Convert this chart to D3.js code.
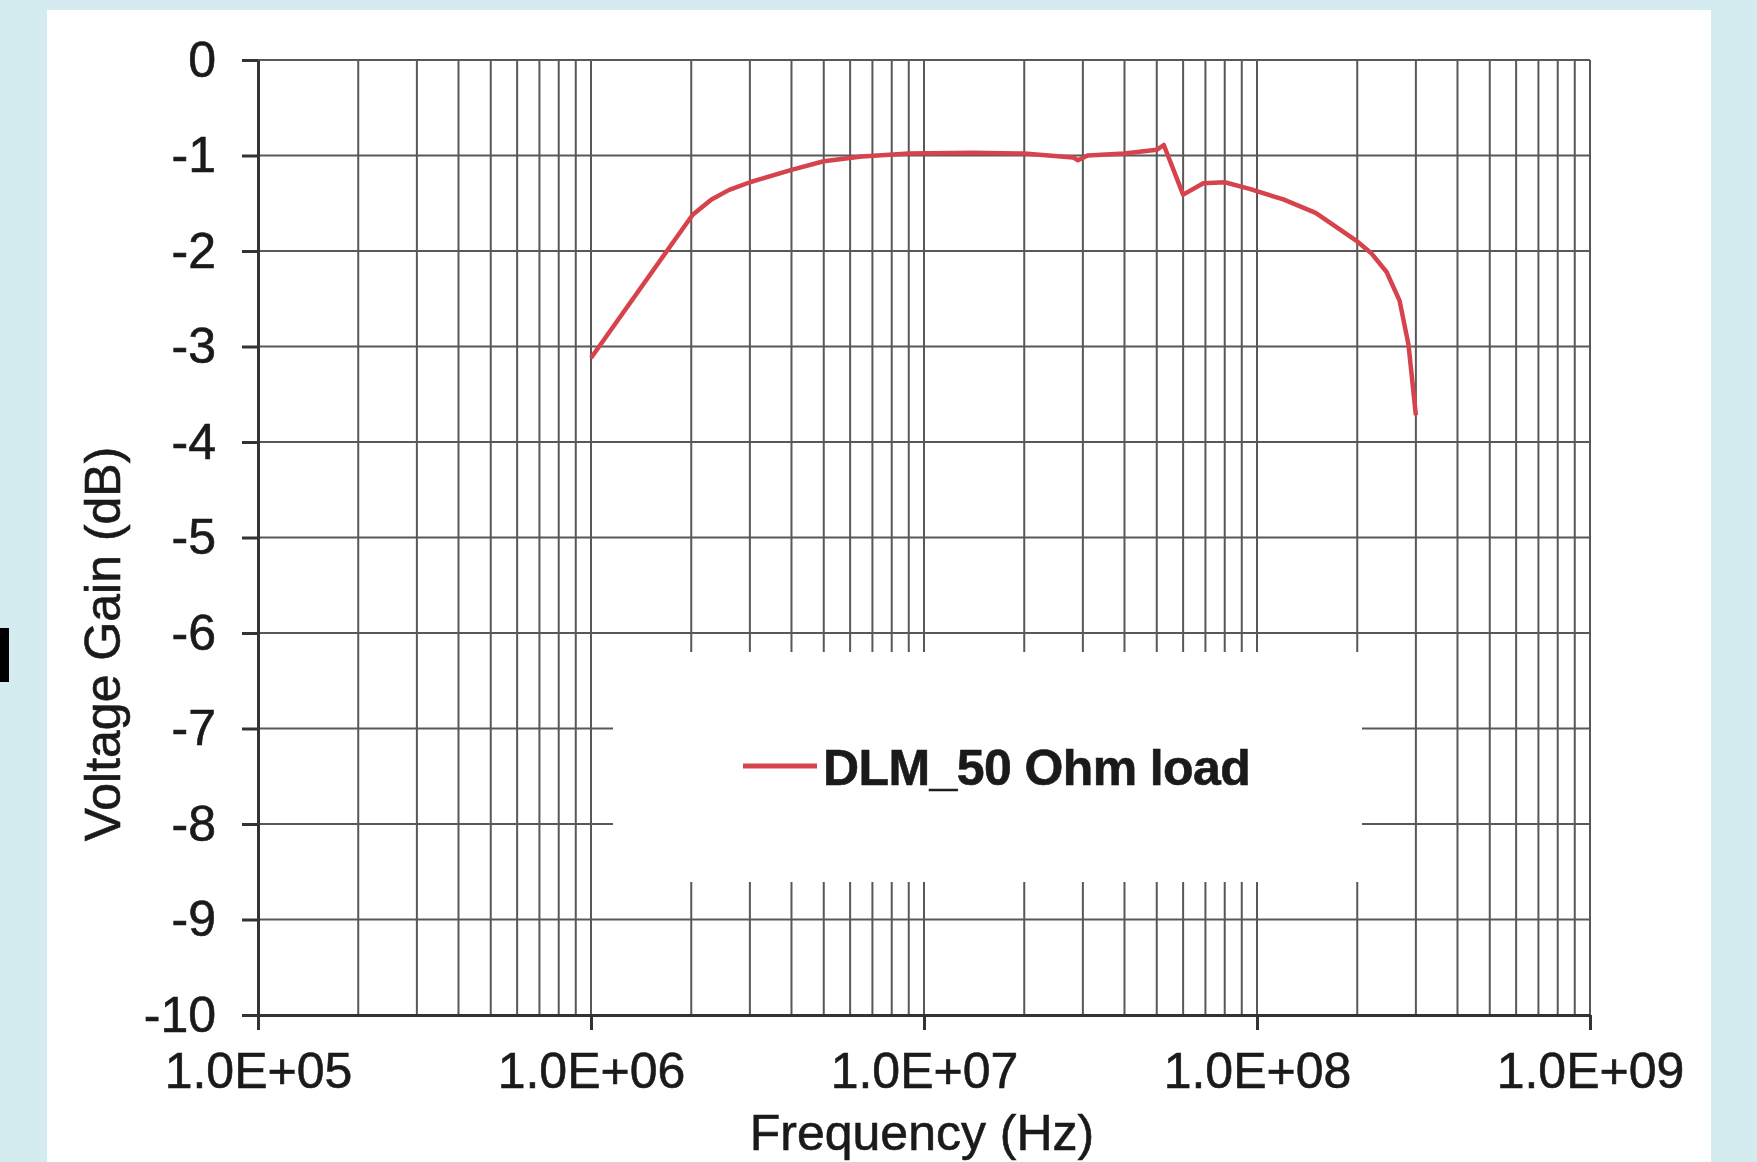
<!DOCTYPE html>
<html>
<head>
<meta charset="utf-8">
<script src="https://cdn.jsdelivr.net/npm/d3@7"></script>
<style>
  html, body { margin: 0; padding: 0; background: #d4ecef; }
  svg { display: block; }
  .grid line { stroke: #585858; stroke-width: 2; }
  .axis path, .axis line { stroke: #333; stroke-width: 3; }
  .axis text { font-family: "Liberation Sans", Arial, sans-serif; font-size: 50px; fill: #1a1a1a; stroke: #1a1a1a; stroke-width: 0.6; }
  .title { font-family: "Liberation Sans", Arial, sans-serif; font-size: 50px; fill: #1a1a1a; stroke: #1a1a1a; stroke-width: 0.6; }
</style>
</head>
<body>
<div id="output"></div>
<script>
// Data
const freqHz = [1e6, 1.73e6, 2.02e6, 2.3e6, 2.6e6, 3e6, 4e6, 5e6, 6.5e6, 9e6,
  1.4e7, 2e7, 2.8e7, 2.9e7, 3.1e7, 4e7, 5e7, 5.25e7, 6e7, 6.9e7,
  8e7, 9.5e7, 1.2e8, 1.5e8, 1.75e8, 2e8, 2.2e8, 2.45e8, 2.68e8, 2.85e8, 3e8];
const gainDb = [-3.12, -1.95, -1.62, -1.46, -1.36, -1.28, -1.15, -1.06, -1.01, -0.98,
  -0.97, -0.98, -1.02, -1.05, -1.0, -0.98, -0.94, -0.89, -1.41, -1.29,
  -1.28, -1.35, -1.46, -1.6, -1.76, -1.9, -2.02, -2.22, -2.52, -2.98, -3.72];
const xDecades = [1e5, 1e6, 1e7, 1e8, 1e9];
const yTicks = [0, -1, -2, -3, -4, -5, -6, -7, -8, -9, -10];
const seriesName = 'DLM_50 Ohm load';

const width = 1757, height = 1162;

const svg = d3.select('#output')
  .append('svg')
  .attr('width', width)
  .attr('height', height);

svg.append('rect')
  .attr('width', width).attr('height', height)
  .attr('fill', '#d4ecef');

// white panel
svg.append('rect')
  .attr('x', 47).attr('y', 10)
  .attr('width', 1711 - 47).attr('height', height - 10)
  .attr('fill', '#fff');

// little black mark on left edge
svg.append('rect')
  .attr('x', 0).attr('y', 628)
  .attr('width', 9).attr('height', 54)
  .attr('fill', '#000');

const x = d3.scaleLog().domain([1e5, 1e9]).range([258, 1590]);
const y = d3.scaleLinear().domain([-10, 0]).range([1015, 60]);

// Grid
const grid = svg.append('g').attr('class', 'grid');
grid.selectAll('.v')
  .data(x.ticks())
  .join('line')
  .attr('x1', d => x(d)).attr('x2', d => x(d))
  .attr('y1', y(0)).attr('y2', y(-10));
grid.selectAll('.h')
  .data(yTicks)
  .join('line')
  .attr('x1', x(1e5)).attr('x2', x(1e9))
  .attr('y1', d => y(d)).attr('y2', d => y(d));

// Legend box covers the grid
const legend = svg.append('g');
legend.append('rect')
  .attr('x', 613).attr('y', 652)
  .attr('width', 1362 - 613).attr('height', 882 - 652)
  .attr('fill', '#fff');

// Axes
const fmt = d => {
  const e = Math.round(Math.log10(d));
  return '1.0E+' + String(e).padStart(2, '0');
};

svg.append('g')
  .attr('class', 'axis')
  .attr('transform', `translate(0, ${y(-10)})`)
  .call(d3.axisBottom(x).tickValues(xDecades).tickFormat(fmt)
    .tickSize(15).tickSizeOuter(0).tickPadding(22));

svg.append('g')
  .attr('class', 'axis')
  .attr('transform', `translate(${x(1e5)}, 0)`)
  .call(d3.axisLeft(y).tickValues(yTicks).tickFormat(d => String(d))
    .tickSize(16).tickSizeOuter(0).tickPadding(26));

// Series line
svg.append('path')
  .datum(freqHz.map((f, i) => [f, gainDb[i]]))
  .attr('fill', 'none')
  .attr('stroke', '#d6434c')
  .attr('stroke-width', 4.5)
  .attr('stroke-linejoin', 'round')
  .attr('d', d3.line().x(d => x(d[0])).y(d => y(d[1])));

// Legend entry
legend.append('line')
  .attr('x1', 743).attr('x2', 817)
  .attr('y1', 766).attr('y2', 766)
  .attr('stroke', '#d6434c').attr('stroke-width', 5);
legend.append('text')
  .attr('class', 'title')
  .attr('x', 823).attr('y', 785)
  .attr('font-size', 48)
  .attr('font-weight', 'bold')
  .attr('letter-spacing', -0.6)
  .attr('stroke-width', 0)
  .text(seriesName);

// Axis titles
svg.append('text')
  .attr('class', 'title')
  .attr('x', 922).attr('y', 1150)
  .attr('text-anchor', 'middle')
  .text('Frequency (Hz)');

svg.append('text')
  .attr('class', 'title')
  .attr('transform', 'translate(120, 644) rotate(-90)')
  .attr('text-anchor', 'middle')
  .text('Voltage Gain (dB)');
</script>
</body>
</html>
